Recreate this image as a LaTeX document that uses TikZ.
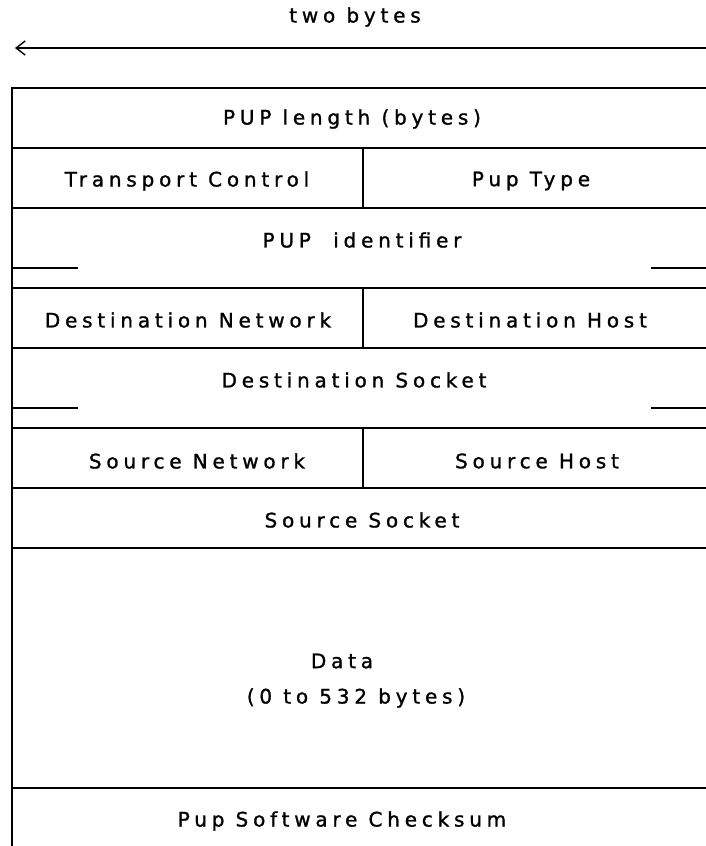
\documentclass[tikz,border=0pt]{standalone}
\usepackage{fontspec}
\setmainfont{DejaVu Sans}[LetterSpace=24,FakeBold=1.2]
\usetikzlibrary{arrows.meta}
\begin{document}
\begin{tikzpicture}[x=1pt,y=-1pt,
  rule/.style={line width=1.6pt,line cap=rect},
  field/.style={inner sep=0pt,font=\fontsize{20}{24}\selectfont},
  span/.style={line width=1.4pt,-{Straight Barb[length=9pt,width=14pt,line width=1.4pt]}}]
\useasboundingbox (0,0) rectangle (706,846);

% width marker
\node[field] (width) at (355,17) {two bytes};
\coordinate (spanR) at (706,48);
\coordinate (spanL) at (15,48);
\draw[span] (spanR) -- (spanL);

% frame: left edge and row separators (open on the right)
\draw[rule] (12,88) -- (12,846);
\foreach \y in {88,148,208,288,348,428,488,548,788}
  \draw[rule] (12,\y) -- (706,\y);
% column dividers for the half-word rows
\draw[rule] (363,148) -- (363,208);
\draw[rule] (363,288) -- (363,348);
\draw[rule] (363,428) -- (363,488);
% ticks marking two-word fields
\draw[rule] (12,268) -- (77,268);
\draw[rule] (652,268) -- (706,268);
\draw[rule] (12,408) -- (77,408);
\draw[rule] (652,408) -- (706,408);

% field labels
\node[field] (len)   at (352,119) {PUP length (bytes)};
\node[field] (tc)    at (187,181) {Transport Control};
\node[field] (ptype) at (531,181) {Pup Type};
\node[field] (pid)   at (362,240) {PUP\ \ identifier};
\node[field] (dnet)  at (188,320) {Destination Network};
\node[field] (dhost) at (530,320) {Destination Host};
\node[field] (dsock) at (354,380) {Destination Socket};
\node[field] (snet)  at (197,461) {Source Network};
\node[field] (shost) at (537,461) {Source Host};
\node[field] (ssock) at (362,520) {Source Socket};
\node[field] (data)  at (342,661) {Data};
\node[field] (dlen)  at (356,698) {(0 to 532 bytes)};
\node[field] (cks)   at (342,821) {Pup Software Checksum};
\end{tikzpicture}
\end{document}
